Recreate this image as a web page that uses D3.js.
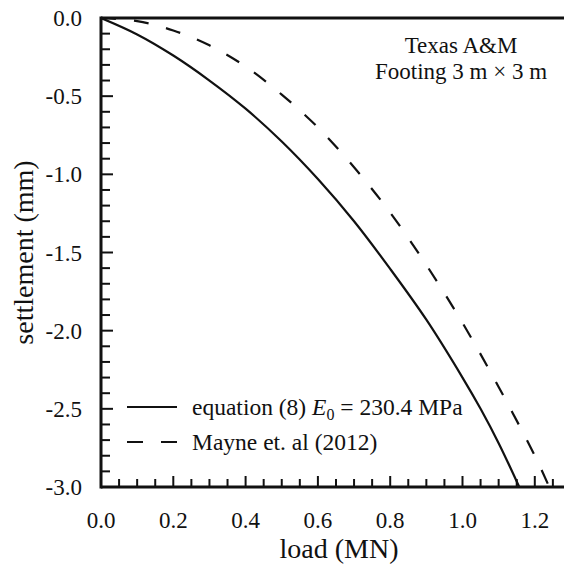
<!DOCTYPE html>
<html>
  <head>
    <meta charset="utf-8">
    <style>
      body { margin: 0; background: #fff; }
    </style>
  </head>
  <body>
    <div class='chart-container'></div>
    <script src="https://cdn.jsdelivr.net/npm/d3@7"></script>
    <script>
// values
var eqLoad = [0, 0.1, 0.2, 0.3, 0.4, 0.5, 0.6, 0.7, 0.8, 0.9, 1.0, 1.05, 1.1, 1.157];
var eqSettle = [0, -0.105, -0.24, -0.40, -0.58, -0.79, -1.03, -1.30, -1.605, -1.93, -2.30, -2.50, -2.72, -3.0];

var mayneLoad = [0, 0.1, 0.2, 0.3, 0.4, 0.5, 0.6, 0.7, 0.8, 0.9, 1.0, 1.1, 1.2, 1.24];
var mayneSettle = [0, -0.02, -0.08, -0.175, -0.31, -0.49, -0.70, -0.955, -1.245, -1.58, -1.95, -2.36, -2.80, -3.0];

var xTicks = [0, 0.2, 0.4, 0.6, 0.8, 1.0, 1.2];
var yTicks = [0, -0.5, -1.0, -1.5, -2.0, -2.5, -3.0];

var width = 564, height = 568;
var plotLeft = 101, plotTop = 18, plotBottom = 487;
var ink = '#111';
var serif = '"Liberation Serif", "Times New Roman", "DejaVu Serif", serif';

var x = d3.scaleLinear().domain([0, 1.3]).range([plotLeft, plotLeft + 1.3 * 361.5]);
var y = d3.scaleLinear().domain([0, -3]).range([plotTop, plotBottom]);

var svg = d3.select('.chart-container').append('svg')
    .attr('width', width)
    .attr('height', height)
    .attr('font-family', serif)
    .style('font-family', serif);

svg.append('clipPath').attr('id', 'plot')
  .append('rect')
    .attr('x', plotLeft).attr('y', plotTop)
    .attr('width', width - plotLeft).attr('height', plotBottom - plotTop);

// minor + major ticks, pointing inward
var xMinor = d3.range(0, 1.3001, 0.05);
svg.append('g').selectAll('line').data(xMinor).enter().append('line')
    .attr('x1', d => x(d)).attr('x2', d => x(d))
    .attr('y1', plotBottom)
    .attr('y2', (d, i) => plotBottom - (i % 4 === 0 ? 11 : 8))
    .style('stroke', ink).style('stroke-width', 2);

var yMinor = d3.range(0, -3.0001, -0.1);
svg.append('g').selectAll('line').data(yMinor).enter().append('line')
    .attr('y1', d => y(d)).attr('y2', d => y(d))
    .attr('x1', plotLeft)
    .attr('x2', (d, i) => plotLeft + (i % 5 === 0 ? 12 : 9))
    .style('stroke', ink).style('stroke-width', 2);

// axis frame
svg.append('line')
    .attr('x1', plotLeft).attr('x2', width).attr('y1', plotBottom).attr('y2', plotBottom)
    .style('stroke', ink).style('stroke-width', 3);
svg.append('line')
    .attr('x1', plotLeft).attr('x2', width).attr('y1', plotTop).attr('y2', plotTop)
    .style('stroke', ink).style('stroke-width', 3);
svg.append('line')
    .attr('x1', plotLeft).attr('x2', plotLeft).attr('y1', plotTop - 1.5).attr('y2', plotBottom + 1.5)
    .style('stroke', ink).style('stroke-width', 3);

// tick labels
svg.append('g').selectAll('text').data(xTicks).enter().append('text')
    .attr('x', d => x(d))
    .attr('y', 528)
    .attr('text-anchor', 'middle')
    .style('font-size', '23px')
    .style('fill', ink)
    .text(d => d3.format('.1f')(d));

svg.append('g').selectAll('text').data(yTicks).enter().append('text')
    .attr('x', 82)
    .attr('y', d => y(d))
    .attr('dy', '0.35em')
    .attr('text-anchor', 'end')
    .style('font-size', '23px')
    .style('fill', ink)
    .text(d => d3.format('.1f')(d).replace('\u2212', '-'));

// axis titles
svg.append('text')
    .attr('x', 339)
    .attr('y', 558)
    .attr('text-anchor', 'middle')
    .style('font-size', '28px')
    .style('fill', ink)
    .text('load (MN)');

svg.append('text')
    .attr('transform', 'translate(33,' + (plotTop + plotBottom) / 2 + ') rotate(-90)')
    .attr('text-anchor', 'middle')
    .style('font-size', '28px')
    .style('fill', ink)
    .text('settlement (mm)');

// curves
var line = d3.line()
    .curve(d3.curveCatmullRom)
    .x(d => x(d[0]))
    .y(d => y(d[1]));

var curves = svg.append('g').attr('clip-path', 'url(#plot)');

curves.append('path')
    .attr('d', line(d3.zip(eqLoad, eqSettle)))
    .style('fill', 'none')
    .style('stroke', ink)
    .style('stroke-width', 2.2);

curves.append('path')
    .attr('d', line(d3.zip(mayneLoad, mayneSettle)))
    .style('fill', 'none')
    .style('stroke', ink)
    .style('stroke-width', 2.2)
    .style('stroke-dasharray', '15,18');

// annotation
var note = svg.append('text')
    .attr('text-anchor', 'middle')
    .style('font-size', '23px')
    .style('fill', ink);
note.append('tspan').attr('x', 461).attr('y', 53).text('Texas A&M');
note.append('tspan').attr('x', 461).attr('y', 79).text('Footing 3 m \u00d7 3 m');

// legend
var legend = svg.append('g');
legend.append('line')
    .attr('x1', 127).attr('x2', 177).attr('y1', 407).attr('y2', 407)
    .style('stroke', ink).style('stroke-width', 2.2);
legend.append('line')
    .attr('x1', 127).attr('x2', 177).attr('y1', 442).attr('y2', 442)
    .style('stroke', ink).style('stroke-width', 2.2)
    .style('stroke-dasharray', '16,18');

var l1 = legend.append('text')
    .attr('x', 192).attr('y', 407).attr('dy', '0.35em')
    .style('font-size', '23.5px')
    .style('fill', ink);
l1.append('tspan').text('equation (8) ');
l1.append('tspan').style('font-style', 'italic').text('E');
l1.append('tspan').attr('dy', 5).style('font-size', '16px').text('0');
l1.append('tspan').attr('dy', -5).text(' = 230.4 MPa');

legend.append('text')
    .attr('x', 192).attr('y', 442).attr('dy', '0.35em')
    .style('font-size', '23.5px')
    .style('fill', ink)
    .text('Mayne et. al (2012)');
    </script>
  </body>
</html>
